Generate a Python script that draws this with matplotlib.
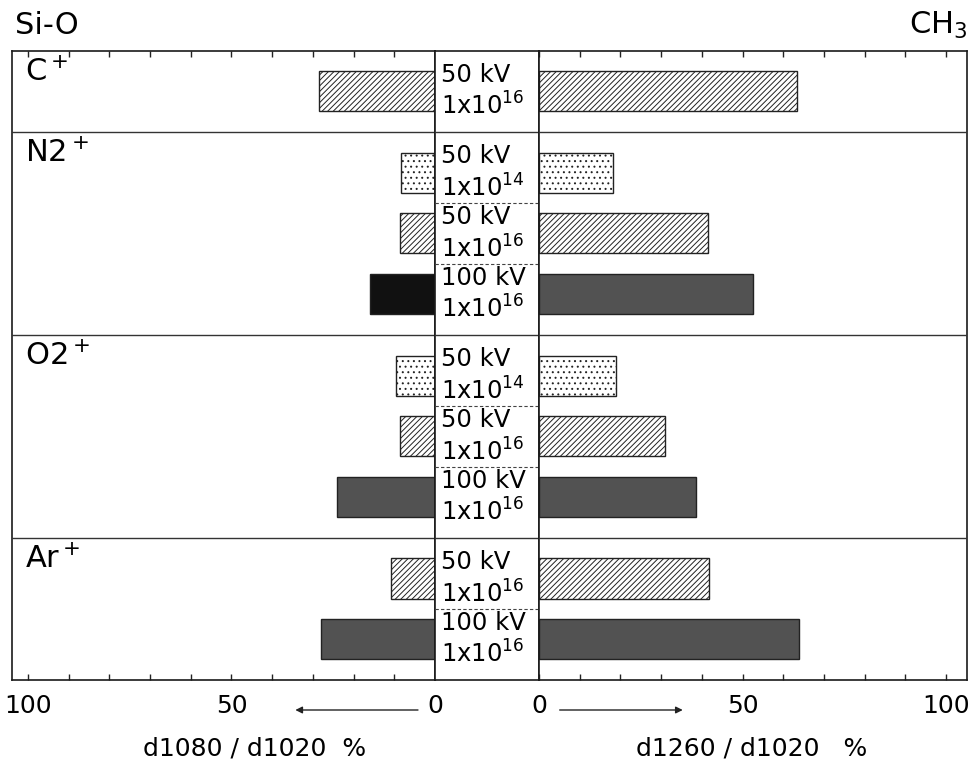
import matplotlib.pyplot as plt
import numpy as np

plt.rcParams['font.family'] = ['DejaVu Sans']
plt.rcParams['mathtext.fontset'] = 'dejavusans'
plt.rcParams['hatch.linewidth'] = 0.7

# ion groups and the implant conditions inside each
ions = ['C$^+$', 'N2$^+$', 'O2$^+$', 'Ar$^+$']
group_sizes = [1, 3, 3, 2]
voltages = ['50', '50', '50', '100', '50', '50', '100', '50', '100']
doses = ['16', '14', '16', '16', '14', '16', '16', '16', '16']

# decrease of absorbance, %
sio = [28.5, 8.4, 8.6, 16.0, 9.6, 8.6, 24.1, 10.9, 28.0]   # d1080/d1020
ch3 = [63.4, 18.2, 41.5, 52.6, 18.9, 31.0, 38.6, 41.8, 63.9]  # d1260/d1020

# fill style per condition
styles = {
    ('50', '14'): dict(facecolor='white', hatch='...'),
    ('50', '16'): dict(facecolor='white', hatch='//////'),
    ('100', '16'): dict(facecolor='#525252', hatch=None),
}
black_left = 3   # N2+ 100 kV Si-O bar drawn solid black

# row layout
pad = 0.67
ypos, bounds, mids = [], [0.0], []
cur = 0.0
for n in group_sizes:
    for i in range(n):
        ypos.append(cur + pad + i)
        if i < n - 1:
            mids.append(cur + pad + i + 0.5)
    cur += n - 1 + 2 * pad
    bounds.append(cur)
ytop = cur

W, H = 979, 762
fig = plt.figure(figsize=(W / 100, H / 100), dpi=100)
bot = 1 - 680 / H
hgt = 629.5 / H
ax_l = fig.add_axes([12 / W, bot, 423 / W, hgt])
ax_c = fig.add_axes([435 / W, bot, 104 / W, hgt])
ax_r = fig.add_axes([539 / W, bot, 428 / W, hgt])

ax_l.set_xlim(423 / 4.07, 0)
ax_r.set_xlim(0, 428 / 4.07)
ax_c.set_xlim(0, 1)

bh = 0.66
for k, y in enumerate(ypos):
    st = styles[(voltages[k], doses[k])]
    for ax, val in ((ax_l, sio[k]), (ax_r, ch3[k])):
        fc = st['facecolor']
        if ax is ax_l and k == black_left:
            fc = '#111111'
        if st['hatch']:
            ax.barh(y, val, height=bh, facecolor=fc, edgecolor='#222222',
                    hatch=st['hatch'], linewidth=1.0, zorder=2)
        else:
            ax.barh(y, val, height=bh, facecolor=fc, edgecolor='#222222',
                    linewidth=1.0, zorder=2)

for ax in (ax_l, ax_c, ax_r):
    ax.set_ylim(ytop, 0)
    ax.set_yticks([])
    for s in ax.spines.values():
        s.set_linewidth(1.2)
        s.set_color('#1a1a1a')
    for b in bounds[1:-1]:
        ax.axhline(b, color='#333333', lw=1.0, zorder=3)

for m in mids:
    ax_c.axhline(m, color='#444444', lw=0.8, ls=(0, (3, 2)), zorder=3)

for ax in (ax_l, ax_r):
    ax.set_xticks([0, 50, 100])
    ax.set_xticklabels(['0', '50', '100'])
    ax.set_xticks(np.arange(0, 101, 10), minor=True)
    ax.tick_params(which='both', direction='in', top=True, bottom=True,
                   length=4, width=1.0, color='#222222')
    ax.tick_params(which='major', labelsize=18, pad=10)
ax_c.set_xticks([])

# center labels
for k, y in enumerate(ypos):
    ax_c.text(0.06, y - 0.27, voltages[k] + ' kV', fontsize=17.5,
              ha='left', va='center')
    ax_c.text(0.06, y + 0.25, '1x10$^{' + doses[k] + '}$', fontsize=17.5,
              ha='left', va='center')

# ion labels
tr = ax_l.get_yaxis_transform()
for g, name in enumerate(ions):
    ax_l.text(0.03, bounds[g] + 0.12, name, transform=tr, fontsize=22,
              ha='left', va='top')

fig.text(15 / W, 1 - 25 / H, 'Si-O', fontsize=22, ha='left', va='center')
fig.text(967 / W, 1 - 25 / H, 'CH$_3$', fontsize=22, ha='right', va='center')

# direction arrows under the zero labels
ay = 1 - 710 / H
ax_l.annotate('', xy=(35, ay), xytext=(3.5, ay),
              xycoords=('data', 'figure fraction'),
              textcoords=('data', 'figure fraction'),
              arrowprops=dict(arrowstyle='-|>', color='#222222', lw=1.0,
                              mutation_scale=10), annotation_clip=False)
ax_r.annotate('', xy=(36, ay), xytext=(4.4, ay),
              xycoords=('data', 'figure fraction'),
              textcoords=('data', 'figure fraction'),
              arrowprops=dict(arrowstyle='-|>', color='#222222', lw=1.0,
                              mutation_scale=10), annotation_clip=False)

fig.text(255 / W, 1 - 748 / H, 'd1080 / d1020  %', fontsize=18,
         ha='center', va='center')
fig.text(752 / W, 1 - 748 / H, 'd1260 / d1020   %', fontsize=18,
         ha='center', va='center')

fig.savefig('out.png', dpi=100)
